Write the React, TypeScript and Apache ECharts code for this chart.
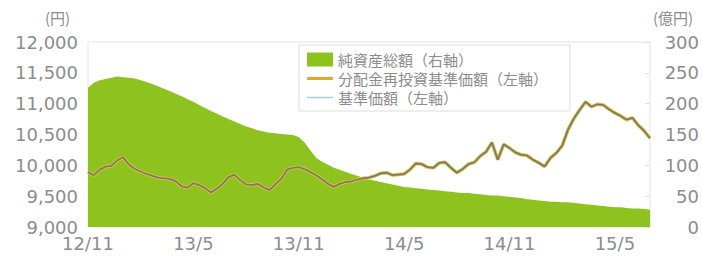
import React, { useEffect, useRef } from "react";
import * as echarts from "echarts";

// Net assets (億円, right axis), 3 points per month from 2012/11/01 to 2015/07/01
const netAssets: number[] = [
  226, 234, 238, 240, 242, 244, 243, 242, 241, 238, 235, 232, 228, 224, 220, 216,
  212, 207, 203, 198, 193, 188, 184, 179, 175, 171, 167, 163, 160, 157, 155, 153,
  152, 151, 150, 149, 146, 137, 124, 112, 106, 101, 96, 93, 89, 86, 83, 80,
  77, 75, 73, 71, 69, 67, 65, 64, 63, 62, 61, 60, 59, 58, 57, 56,
  55, 55, 54, 53, 52, 51, 51, 50, 49, 48, 47, 45, 44, 43, 42, 41,
  41, 40, 40, 39, 38, 37, 36, 35, 34, 33, 32, 32, 31, 30, 30, 29,
  28,
];

// NAV (円, left axis); distribution-reinvested NAV is identical (no distributions)
const nav: number[] = [
  9890, 9840, 9930, 9980, 9990, 10080, 10130, 10010, 9940, 9900, 9860, 9830, 9800, 9790, 9780, 9740,
  9660, 9640, 9710, 9680, 9630, 9560, 9620, 9700, 9810, 9850, 9760, 9690, 9680, 9700, 9640, 9600,
  9690, 9780, 9930, 9960, 9970, 9940, 9890, 9840, 9770, 9700, 9650, 9700, 9730, 9740, 9770, 9790,
  9800, 9830, 9870, 9880, 9840, 9850, 9860, 9930, 10030, 10020, 9970, 9960, 10040, 10050, 9960, 9880,
  9940, 10020, 10050, 10150, 10220, 10370, 10090, 10340, 10280, 10210, 10170, 10160, 10090, 10040, 9980, 10120,
  10200, 10320, 10580, 10760, 10900, 11030, 10950, 10990, 10980, 10910, 10850, 10800, 10740, 10770, 10650, 10560,
  10440,
];
const navReinvested: number[] = nav.slice();

const seriesNames = ["純資産総額（右軸）", "分配金再投資基準価額（左軸）", "基準価額（左軸）"];
const leftTicks = { min: 9000, max: 12000, interval: 500 };
const rightTicks = { min: 0, max: 300, interval: 50 };
const startYear = 2012;
const startMonth = 11;
const labelEvery = 18; // every 6 months

function buildDates(count: number): string[] {
  const out: string[] = [];
  const days = [1, 11, 21];
  for (let i = 0; i < count; i++) {
    const mIdx = Math.floor(i / 3);
    const d = days[i % 3];
    const total = startMonth - 1 + mIdx;
    const y = startYear + Math.floor(total / 12);
    const m = (total % 12) + 1;
    out.push(`${y}-${String(m).padStart(2, "0")}-${String(d).padStart(2, "0")}`);
  }
  return out;
}

const dates = buildDates(netAssets.length);

const FONT = "'DejaVu Sans', 'Noto Sans CJK JP', sans-serif";
const JFONT = "'Noto Sans CJK JP', sans-serif";
const TEXT = "#8c8c8c";
const GREEN = "#8dc21f";
const ORANGE = "#e8a72a";
const UNDER = "#e2c23a";
const TOPLINE = "#7a7b6c";
const LIGHTBLUE = "#a9cde0";

export default function App() {
  const ref = useRef<HTMLDivElement>(null);
  useEffect(() => {
    if (!ref.current) return;
    const chart = echarts.init(ref.current, undefined, { renderer: "svg" });
    const showIdx = (i: number) => i % labelEvery === 0 && i < dates.length - 1;
    chart.setOption({
      animation: false,
      backgroundColor: "#ffffff",
      textStyle: { fontFamily: FONT },
      grid: {
        left: 88,
        right: 45,
        top: 42,
        bottom: 30,
        show: true,
        borderColor: "#e4e4e4",
        borderWidth: 1,
      },
      legend: {
        left: 299,
        top: 45,
        orient: "vertical",
        itemWidth: 26,
        itemHeight: 14,
        itemGap: 4,
        padding: [7, 22, 6, 8],
        borderColor: "#dcdcdc",
        borderWidth: 1,
        backgroundColor: "#ffffff",
        textStyle: { fontSize: 15, color: TEXT, fontFamily: JFONT },
        data: [
          { name: seriesNames[0], icon: "rect", itemStyle: { color: GREEN } },
          { name: seriesNames[1], icon: "path://M0,0H26V3H0Z", itemStyle: { color: ORANGE } },
          { name: seriesNames[2], icon: "path://M0,0H26V1.5H0Z", itemStyle: { color: LIGHTBLUE } },
        ],
      },
      xAxis: {
        type: "category",
        data: dates,
        boundaryGap: false,
        axisLine: { show: false },
        axisTick: {
          show: true,
          inside: true,
          length: 6,
          interval: (i: number) => showIdx(i),
          lineStyle: { color: "rgba(255,255,255,0.7)", width: 1 },
        },
        axisLabel: {
          interval: (i: number) => showIdx(i),
          margin: 7,
          fontSize: 18,
          color: TEXT,
          fontFamily: FONT,
          formatter: (v: string) => {
            const [y, m] = v.split("-");
            return `${y.slice(2)}/${parseInt(m, 10)}`;
          },
        },
        splitLine: { show: false },
      },
      yAxis: [
        {
          type: "value",
          min: leftTicks.min,
          max: leftTicks.max,
          interval: leftTicks.interval,
          axisLine: { show: false },
          axisTick: { show: true, inside: true, length: 5, lineStyle: { color: "rgba(255,255,255,0.6)" } },
          splitLine: { show: false },
          axisLabel: {
            margin: 10,
            fontSize: 18,
            color: TEXT,
            fontFamily: FONT,
            formatter: (v: number) => v.toLocaleString("en-US"),
          },
        },
        {
          type: "value",
          min: rightTicks.min,
          max: rightTicks.max,
          interval: rightTicks.interval,
          position: "right",
          axisLine: { show: false },
          axisTick: { show: true, inside: true, length: 5, lineStyle: { color: "#e0e0e0" } },
          splitLine: { show: false },
          axisLabel: {
            margin: 49,
            align: "right",
            fontSize: 18,
            color: TEXT,
            fontFamily: FONT,
          },
        },
      ],
      graphic: [
        {
          type: "text",
          left: 45,
          top: 10,
          style: { text: "(円)", fontSize: 15, fill: TEXT, fontFamily: JFONT },
        },
        {
          type: "text",
          left: 653,
          top: 10,
          style: { text: "(億円)", fontSize: 15, fill: TEXT, fontFamily: JFONT },
        },
      ],
      series: [
        {
          name: seriesNames[0],
          type: "line",
          yAxisIndex: 1,
          data: netAssets,
          symbol: "none",
          lineStyle: { width: 0, color: GREEN },
          itemStyle: { color: GREEN },
          areaStyle: { color: GREEN, opacity: 1 },
          z: 1,
        },
        {
          name: seriesNames[1],
          type: "line",
          yAxisIndex: 0,
          data: navReinvested,
          symbol: "none",
          lineStyle: { width: 3.5, color: UNDER },
          itemStyle: { color: ORANGE },
          z: 2,
        },
        {
          name: seriesNames[2],
          type: "line",
          yAxisIndex: 0,
          data: nav,
          symbol: "none",
          lineStyle: { width: 1.8, color: TOPLINE },
          itemStyle: { color: LIGHTBLUE },
          z: 3,
        },
      ],
    });
    return () => chart.dispose();
  }, []);
  return (
    <div
      ref={ref}
      style={{ position: "fixed", left: 0, top: 0, width: 702, height: 257 }}
    />
  );
}
